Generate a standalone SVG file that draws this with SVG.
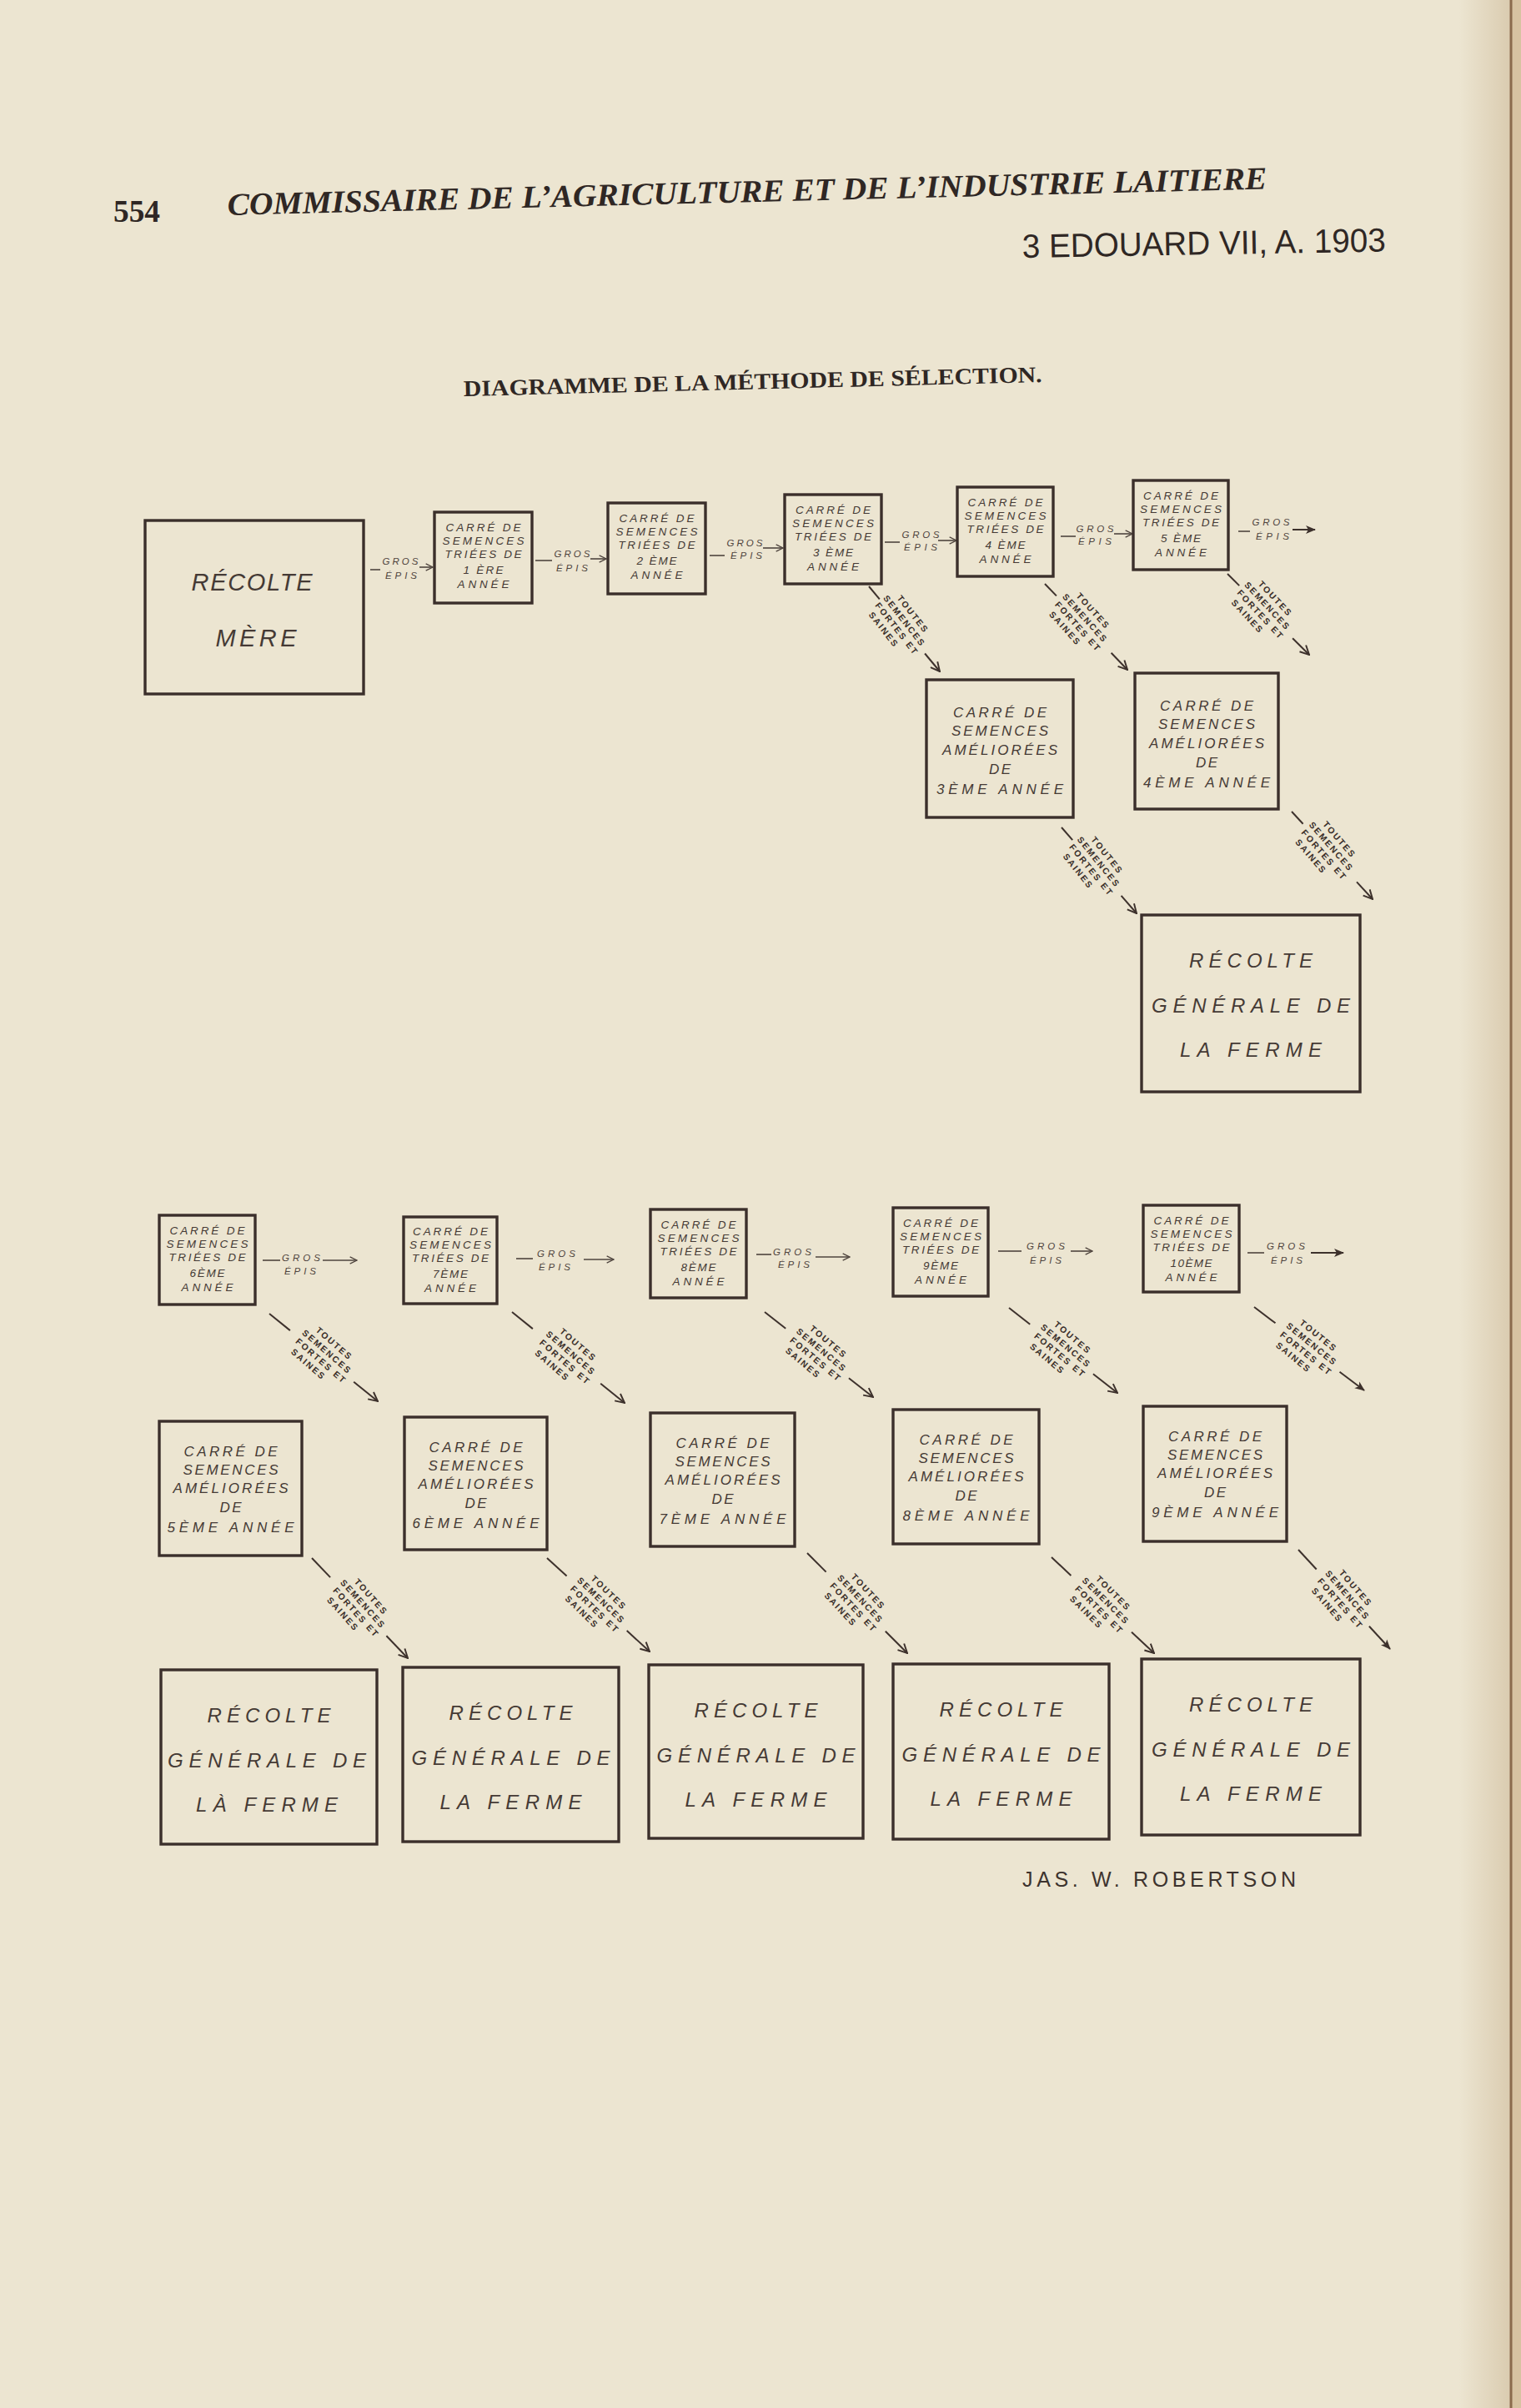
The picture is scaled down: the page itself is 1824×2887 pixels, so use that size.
<svg xmlns="http://www.w3.org/2000/svg" width="1824" height="2887" viewBox="0 0 1824 2887">
<defs>
<linearGradient id="edge" x1="0" y1="0" x2="1" y2="0">
<stop offset="0" stop-color="#b89a70" stop-opacity="0"/>
<stop offset="1" stop-color="#b89a70" stop-opacity="0.35"/>
</linearGradient>
<marker id="ao" viewBox="0 0 12 12" refX="11" refY="6" markerWidth="13" markerHeight="13" markerUnits="userSpaceOnUse" orient="auto">
<path d="M1,1 L11,6 L1,11" fill="none" stroke="#3d312c" stroke-width="1.8"/>
</marker>
<marker id="as" viewBox="0 0 12 12" refX="11" refY="6" markerWidth="10" markerHeight="10" markerUnits="userSpaceOnUse" orient="auto">
<path d="M1,1 L11,6 L1,11" fill="none" stroke="#4f443e" stroke-width="1.6"/>
</marker>
<marker id="af" viewBox="0 0 12 12" refX="11" refY="6" markerWidth="12" markerHeight="12" markerUnits="userSpaceOnUse" orient="auto">
<path d="M0,1 L12,6 L0,11 L3,6 z" fill="#3d312c"/>
</marker>
<style>
.bx{fill:none;stroke:#3b2f2b;stroke-width:3.4}
.t{font-family:"Liberation Sans",Arial,sans-serif;font-style:italic;fill:#453a35;text-anchor:middle}
.s{font-size:13.5px}
.m{font-size:17px}
.l{font-size:24px}
.g{font-family:"Liberation Sans",Arial,sans-serif;font-style:italic;font-size:11.5px;fill:#4f443e;text-anchor:middle}
.c{stroke:#3d312c;stroke-width:2;fill:none}
.cs{stroke:#4f443e;stroke-width:1.6;fill:none}
.d{font-family:"Liberation Sans",Arial,sans-serif;font-weight:bold;font-size:10.5px;letter-spacing:2px;fill:#3a2f2a;text-anchor:middle}
.hd{font-family:"Liberation Serif","Times New Roman",serif;font-weight:bold;fill:#2f2724}
</style>
</defs>

<rect x="0" y="0" width="1824" height="2887" fill="#ece5d1"/>
<rect x="1750" y="0" width="63" height="2887" fill="url(#edge)"/>
<rect x="1813" y="0" width="11" height="2887" fill="#d7c3a1"/>
<line x1="1812" y1="0" x2="1812" y2="2887" stroke="#8b6b4c" stroke-width="3"/>

<g id="header">
<text class="hd" x="136" y="266" font-size="38" textLength="56" lengthAdjust="spacingAndGlyphs">554</text>
<text class="hd" x="273" y="258" font-size="38" font-style="italic" textLength="1247" lengthAdjust="spacingAndGlyphs" transform="rotate(-1.45 273 258)">COMMISSAIRE DE L’AGRICULTURE ET DE L’INDUSTRIE LAITIERE</text>
<text x="1226" y="309" font-family="'Liberation Sans',Arial,sans-serif" font-size="40" fill="#2f2724" textLength="436" lengthAdjust="spacingAndGlyphs" transform="rotate(-1 1226 309)">3 EDOUARD VII, A. 1903</text>
<text class="hd" x="556" y="475" font-size="27" textLength="694" lengthAdjust="spacingAndGlyphs" transform="rotate(-1.4 556 475)">DIAGRAMME DE LA MÉTHODE DE SÉLECTION.</text>
</g>

<g id="connectors">
<g id="g1"><line class="cs" x1="444" y1="683" x2="456" y2="683"/><text class="g" x="480" y="677" textLength="43">GROS</text><text class="g" x="481" y="694" textLength="38">ÉPIS</text><line class="cs" x1="503" y1="680" x2="519" y2="680" marker-end="url(#as)"/></g>
<g id="g2"><line class="cs" x1="642" y1="672" x2="662" y2="672"/><text class="g" x="686" y="668" textLength="43">GROS</text><text class="g" x="686" y="685" textLength="38">ÉPIS</text><line class="cs" x1="708" y1="670" x2="727" y2="670" marker-end="url(#as)"/></g>
<g id="g3"><line class="cs" x1="851" y1="666" x2="869" y2="666"/><text class="g" x="893" y="655" textLength="43">GROS</text><text class="g" x="895" y="670" textLength="38">ÉPIS</text><line class="cs" x1="915" y1="657" x2="939" y2="657" marker-end="url(#as)"/></g>
<g id="g4"><line class="cs" x1="1061" y1="650" x2="1079" y2="650"/><text class="g" x="1104" y="645" textLength="45">GROS</text><text class="g" x="1104" y="660" textLength="40">ÉPIS</text><line class="cs" x1="1125" y1="648" x2="1147" y2="648" marker-end="url(#as)"/></g>
<g id="g5"><line class="cs" x1="1272" y1="643" x2="1290" y2="643"/><text class="g" x="1313" y="638" textLength="45">GROS</text><text class="g" x="1313" y="653" textLength="40">ÉPIS</text><line class="cs" x1="1336" y1="640" x2="1358" y2="640" marker-end="url(#as)"/></g>
<g id="g6"><line class="cs" x1="1485" y1="637" x2="1499" y2="637"/><text class="g" x="1524" y="630" textLength="45">GROS</text><text class="g" x="1526" y="647" textLength="40">ÉPIS</text><line class="c" x1="1550" y1="635" x2="1577" y2="635" marker-end="url(#af)"/></g>
<g id="g7"><line class="cs" x1="315" y1="1511" x2="336" y2="1511"/><text class="g" x="361" y="1512" textLength="46">GROS</text><text class="g" x="360" y="1528" textLength="38">ÉPIS</text><line class="cs" x1="387" y1="1511" x2="428" y2="1511" marker-end="url(#as)"/></g>
<g id="g8"><line class="cs" x1="619" y1="1509" x2="639" y2="1509"/><text class="g" x="667" y="1507" textLength="46">GROS</text><text class="g" x="665" y="1523" textLength="38">ÉPIS</text><line class="cs" x1="700" y1="1510" x2="736" y2="1510" marker-end="url(#as)"/></g>
<g id="g9"><line class="cs" x1="907" y1="1504" x2="925" y2="1504"/><text class="g" x="950" y="1505" textLength="46">GROS</text><text class="g" x="952" y="1520" textLength="38">ÉPIS</text><line class="cs" x1="978" y1="1507" x2="1019" y2="1507" marker-end="url(#as)"/></g>
<g id="g10"><line class="cs" x1="1197" y1="1500" x2="1225" y2="1500"/><text class="g" x="1254" y="1498" textLength="46">GROS</text><text class="g" x="1254" y="1515" textLength="38">ÉPIS</text><line class="cs" x1="1284" y1="1500" x2="1310" y2="1500" marker-end="url(#as)"/></g>
<g id="g11"><line class="cs" x1="1496" y1="1502" x2="1516" y2="1502"/><text class="g" x="1542" y="1498" textLength="46">GROS</text><text class="g" x="1543" y="1515" textLength="38">ÉPIS</text><line class="c" x1="1572" y1="1502" x2="1611" y2="1502" marker-end="url(#af)"/></g>

<g id="d1"><line class="c" x1="1042" y1="703" x2="1054.8" y2="718.4"/><line class="c" x1="1109.1" y1="783.5" x2="1127" y2="805" marker-end="url(#ao)"/>
<g transform="translate(1080.4 749.1) rotate(52)"><text class="d" x="-1" y="-15.5">TOUTES</text><text class="d" x="-1" y="-2.5">SEMENCES</text><text class="d" x="1" y="10.5">FORTES ET</text><text class="d" x="-8" y="23.5">SAINES</text></g></g>
<g id="d2"><line class="c" x1="1253" y1="700" x2="1266.9" y2="714.4"/><line class="c" x1="1332.6" y1="782.8" x2="1352" y2="803" marker-end="url(#ao)"/>
<g transform="translate(1297.4 746.1) rotate(48)"><text class="d" x="-1" y="-15.5">TOUTES</text><text class="d" x="-1" y="-2.5">SEMENCES</text><text class="d" x="1" y="10.5">FORTES ET</text><text class="d" x="-8" y="23.5">SAINES</text></g></g>
<g id="d3"><line class="c" x1="1472" y1="688" x2="1486.2" y2="702.1"/><line class="c" x1="1550.1" y1="765.3" x2="1570" y2="785" marker-end="url(#ao)"/>
<g transform="translate(1516.1 731.6) rotate(47)"><text class="d" x="-1" y="-15.5">TOUTES</text><text class="d" x="-1" y="-2.5">SEMENCES</text><text class="d" x="1" y="10.5">FORTES ET</text><text class="d" x="-8" y="23.5">SAINES</text></g></g>
<g id="d4"><line class="c" x1="1273" y1="992" x2="1286.2" y2="1007.1"/><line class="c" x1="1344.6" y1="1073.9" x2="1363" y2="1095" marker-end="url(#ao)"/>
<g transform="translate(1313.5 1038.3) rotate(51)"><text class="d" x="-1" y="-15.5">TOUTES</text><text class="d" x="-1" y="-2.5">SEMENCES</text><text class="d" x="1" y="10.5">FORTES ET</text><text class="d" x="-8" y="23.5">SAINES</text></g></g>
<g id="d5"><line class="c" x1="1549" y1="973" x2="1562.6" y2="987.7"/><line class="c" x1="1627" y1="1057.4" x2="1646" y2="1078" marker-end="url(#ao)"/>
<g transform="translate(1592.5 1020) rotate(49)"><text class="d" x="-1" y="-15.5">TOUTES</text><text class="d" x="-1" y="-2.5">SEMENCES</text><text class="d" x="1" y="10.5">FORTES ET</text><text class="d" x="-8" y="23.5">SAINES</text></g></g>

<g id="d6"><line class="c" x1="323" y1="1575" x2="347.9" y2="1595.1"/><line class="c" x1="424.2" y1="1656.8" x2="453" y2="1680" marker-end="url(#ao)"/>
<g transform="translate(389 1626) rotate(41)"><text class="d" x="-1" y="-15.5">TOUTES</text><text class="d" x="-1" y="-2.5">SEMENCES</text><text class="d" x="1" y="10.5">FORTES ET</text><text class="d" x="-8" y="23.5">SAINES</text></g></g>
<g id="d7"><line class="c" x1="614" y1="1573" x2="638.9" y2="1593.1"/><line class="c" x1="720.2" y1="1658.8" x2="749" y2="1682" marker-end="url(#ao)"/>
<g transform="translate(681.5 1627.5) rotate(41)"><text class="d" x="-1" y="-15.5">TOUTES</text><text class="d" x="-1" y="-2.5">SEMENCES</text><text class="d" x="1" y="10.5">FORTES ET</text><text class="d" x="-8" y="23.5">SAINES</text></g></g>
<g id="d8"><line class="c" x1="917" y1="1573" x2="942.2" y2="1592.7"/><line class="c" x1="1017.9" y1="1652.2" x2="1047" y2="1675" marker-end="url(#ao)"/>
<g transform="translate(982 1624) rotate(40)"><text class="d" x="-1" y="-15.5">TOUTES</text><text class="d" x="-1" y="-2.5">SEMENCES</text><text class="d" x="1" y="10.5">FORTES ET</text><text class="d" x="-8" y="23.5">SAINES</text></g></g>
<g id="d9"><line class="c" x1="1210" y1="1568" x2="1235.2" y2="1587.7"/><line class="c" x1="1310.9" y1="1647.2" x2="1340" y2="1670" marker-end="url(#ao)"/>
<g transform="translate(1275 1619) rotate(40)"><text class="d" x="-1" y="-15.5">TOUTES</text><text class="d" x="-1" y="-2.5">SEMENCES</text><text class="d" x="1" y="10.5">FORTES ET</text><text class="d" x="-8" y="23.5">SAINES</text></g></g>
<g id="d10"><line class="c" x1="1504" y1="1567" x2="1529.5" y2="1586.3"/><line class="c" x1="1606.5" y1="1644.7" x2="1636" y2="1667" marker-end="url(#af)"/>
<g transform="translate(1570 1617) rotate(39)"><text class="d" x="-1" y="-15.5">TOUTES</text><text class="d" x="-1" y="-2.5">SEMENCES</text><text class="d" x="1" y="10.5">FORTES ET</text><text class="d" x="-8" y="23.5">SAINES</text></g></g>
<g id="d11"><line class="c" x1="374" y1="1868" x2="396.1" y2="1891.1"/><line class="c" x1="463.4" y1="1961.3" x2="489" y2="1988" marker-end="url(#ao)"/>
<g transform="translate(431.5 1928) rotate(48)"><text class="d" x="-1" y="-15.5">TOUTES</text><text class="d" x="-1" y="-2.5">SEMENCES</text><text class="d" x="1" y="10.5">FORTES ET</text><text class="d" x="-8" y="23.5">SAINES</text></g></g>
<g id="d12"><line class="c" x1="656" y1="1868" x2="679.6" y2="1889.5"/><line class="c" x1="751.7" y1="1955.1" x2="779" y2="1980" marker-end="url(#ao)"/>
<g transform="translate(717.5 1924) rotate(44)"><text class="d" x="-1" y="-15.5">TOUTES</text><text class="d" x="-1" y="-2.5">SEMENCES</text><text class="d" x="1" y="10.5">FORTES ET</text><text class="d" x="-8" y="23.5">SAINES</text></g></g>
<g id="d13"><line class="c" x1="968" y1="1862" x2="990.6" y2="1884.6"/><line class="c" x1="1061.8" y1="1955.8" x2="1088" y2="1982" marker-end="url(#ao)"/>
<g transform="translate(1028 1922) rotate(47)"><text class="d" x="-1" y="-15.5">TOUTES</text><text class="d" x="-1" y="-2.5">SEMENCES</text><text class="d" x="1" y="10.5">FORTES ET</text><text class="d" x="-8" y="23.5">SAINES</text></g></g>
<g id="d14"><line class="c" x1="1261" y1="1867" x2="1284.4" y2="1888.9"/><line class="c" x1="1357" y1="1956.7" x2="1384" y2="1982" marker-end="url(#ao)"/>
<g transform="translate(1322.5 1924.5) rotate(45)"><text class="d" x="-1" y="-15.5">TOUTES</text><text class="d" x="-1" y="-2.5">SEMENCES</text><text class="d" x="1" y="10.5">FORTES ET</text><text class="d" x="-8" y="23.5">SAINES</text></g></g>
<g id="d15"><line class="c" x1="1557" y1="1858" x2="1578.7" y2="1881.5"/><line class="c" x1="1641.9" y1="1949.8" x2="1667" y2="1977" marker-end="url(#af)"/>
<g transform="translate(1612 1917.5) rotate(49)"><text class="d" x="-1" y="-15.5">TOUTES</text><text class="d" x="-1" y="-2.5">SEMENCES</text><text class="d" x="1" y="10.5">FORTES ET</text><text class="d" x="-8" y="23.5">SAINES</text></g></g>
</g>

<g id="node-recolte-mere"><rect class="bx" x="174" y="624" width="262" height="208"/>
<text class="t" x="302" y="708" font-size="29" textLength="145">RÉCOLTE</text>
<text class="t" x="307" y="775" font-size="29" textLength="97">MÈRE</text></g>

<g id="node-triees-1"><rect class="bx" x="521" y="614" width="117" height="109"/>
<text class="t s" x="579.5" y="637" textLength="90">CARRÉ DE</text><text class="t s" x="579.5" y="653" textLength="98">SEMENCES</text><text class="t s" x="579.5" y="669" textLength="92">TRIÉES DE</text><text class="t s" x="579.5" y="688" textLength="48">1 ÈRE</text><text class="t s" x="579.5" y="705" textLength="62">ANNÉE</text></g>
<g id="node-triees-2"><rect class="bx" x="729" y="603" width="117" height="109"/>
<text class="t s" x="787.5" y="626" textLength="90">CARRÉ DE</text><text class="t s" x="787.5" y="642" textLength="98">SEMENCES</text><text class="t s" x="787.5" y="658" textLength="92">TRIÉES DE</text><text class="t s" x="787.5" y="677" textLength="48">2 ÈME</text><text class="t s" x="787.5" y="694" textLength="62">ANNÉE</text></g>
<g id="node-triees-3"><rect class="bx" x="941" y="593" width="116" height="107"/>
<text class="t s" x="999" y="616" textLength="90">CARRÉ DE</text><text class="t s" x="999" y="632" textLength="98">SEMENCES</text><text class="t s" x="999" y="648" textLength="92">TRIÉES DE</text><text class="t s" x="999" y="667" textLength="48">3 ÈME</text><text class="t s" x="999" y="684" textLength="62">ANNÉE</text></g>
<g id="node-triees-4"><rect class="bx" x="1148" y="584" width="115" height="107"/>
<text class="t s" x="1205.5" y="607" textLength="90">CARRÉ DE</text><text class="t s" x="1205.5" y="623" textLength="98">SEMENCES</text><text class="t s" x="1205.5" y="639" textLength="92">TRIÉES DE</text><text class="t s" x="1205.5" y="658" textLength="48">4 ÈME</text><text class="t s" x="1205.5" y="675" textLength="62">ANNÉE</text></g>
<g id="node-triees-5"><rect class="bx" x="1359" y="576" width="114" height="107"/>
<text class="t s" x="1416" y="599" textLength="90">CARRÉ DE</text><text class="t s" x="1416" y="615" textLength="98">SEMENCES</text><text class="t s" x="1416" y="631" textLength="92">TRIÉES DE</text><text class="t s" x="1416" y="650" textLength="48">5 ÈME</text><text class="t s" x="1416" y="667" textLength="62">ANNÉE</text></g>

<g id="node-ameliorees-3"><rect class="bx" x="1111" y="815" width="176" height="165"/>
<text class="t m" x="1199" y="860" textLength="112">CARRÉ DE</text><text class="t m" x="1199" y="882" textLength="116">SEMENCES</text><text class="t m" x="1199" y="905" textLength="138">AMÉLIORÉES</text><text class="t m" x="1199" y="928" textLength="26">DE</text><text class="t m" x="1199" y="952" textLength="152">3ÈME ANNÉE</text></g>
<g id="node-ameliorees-4"><rect class="bx" x="1361" y="807" width="172" height="163"/>
<text class="t m" x="1447" y="852" textLength="112">CARRÉ DE</text><text class="t m" x="1447" y="874" textLength="116">SEMENCES</text><text class="t m" x="1447" y="897" textLength="138">AMÉLIORÉES</text><text class="t m" x="1447" y="920" textLength="26">DE</text><text class="t m" x="1447" y="944" textLength="152">4ÈME ANNÉE</text></g>

<g id="node-recolte-top"><rect class="bx" x="1369" y="1097" width="262" height="212"/>
<text class="t l" x="1500" y="1160" textLength="148">RÉCOLTE</text><text class="t l" x="1500" y="1214" textLength="238">GÉNÉRALE DE</text><text class="t l" x="1500" y="1267" textLength="170">LA FERME</text></g>

<g id="node-triees-6"><rect class="bx" x="191" y="1457" width="115" height="107"/>
<text class="t s" x="248.5" y="1480" textLength="90">CARRÉ DE</text><text class="t s" x="248.5" y="1496" textLength="98">SEMENCES</text><text class="t s" x="248.5" y="1512" textLength="92">TRIÉES DE</text><text class="t s" x="248.5" y="1531" textLength="42">6ÈME</text><text class="t s" x="248.5" y="1548" textLength="62">ANNÉE</text></g>
<g id="node-triees-7"><rect class="bx" x="484" y="1459" width="112" height="104"/>
<text class="t s" x="540" y="1481" textLength="90">CARRÉ DE</text><text class="t s" x="540" y="1497" textLength="98">SEMENCES</text><text class="t s" x="540" y="1513" textLength="92">TRIÉES DE</text><text class="t s" x="540" y="1532" textLength="42">7ÈME</text><text class="t s" x="540" y="1549" textLength="62">ANNÉE</text></g>
<g id="node-triees-8"><rect class="bx" x="780" y="1450" width="115" height="106"/>
<text class="t s" x="837.5" y="1473" textLength="90">CARRÉ DE</text><text class="t s" x="837.5" y="1489" textLength="98">SEMENCES</text><text class="t s" x="837.5" y="1505" textLength="92">TRIÉES DE</text><text class="t s" x="837.5" y="1524" textLength="42">8ÈME</text><text class="t s" x="837.5" y="1541" textLength="62">ANNÉE</text></g>
<g id="node-triees-9"><rect class="bx" x="1071" y="1448" width="114" height="106"/>
<text class="t s" x="1128" y="1471" textLength="90">CARRÉ DE</text><text class="t s" x="1128" y="1487" textLength="98">SEMENCES</text><text class="t s" x="1128" y="1503" textLength="92">TRIÉES DE</text><text class="t s" x="1128" y="1522" textLength="42">9ÈME</text><text class="t s" x="1128" y="1539" textLength="62">ANNÉE</text></g>
<g id="node-triees-10"><rect class="bx" x="1371" y="1445" width="115" height="104"/>
<text class="t s" x="1428.5" y="1468" textLength="90">CARRÉ DE</text><text class="t s" x="1428.5" y="1484" textLength="98">SEMENCES</text><text class="t s" x="1428.5" y="1500" textLength="92">TRIÉES DE</text><text class="t s" x="1428.5" y="1519" textLength="50">10ÈME</text><text class="t s" x="1428.5" y="1536" textLength="62">ANNÉE</text></g>

<g id="node-ameliorees-5"><rect class="bx" x="191" y="1704" width="171" height="161"/>
<text class="t m" x="276.5" y="1746" textLength="112">CARRÉ DE</text><text class="t m" x="276.5" y="1768" textLength="114">SEMENCES</text><text class="t m" x="276.5" y="1790" textLength="138">AMÉLIORÉES</text><text class="t m" x="276.5" y="1813" textLength="26">DE</text><text class="t m" x="276.5" y="1837" textLength="152">5ÈME ANNÉE</text></g>
<g id="node-ameliorees-6"><rect class="bx" x="485" y="1699" width="171" height="159"/>
<text class="t m" x="570.5" y="1741" textLength="112">CARRÉ DE</text><text class="t m" x="570.5" y="1763" textLength="114">SEMENCES</text><text class="t m" x="570.5" y="1785" textLength="138">AMÉLIORÉES</text><text class="t m" x="570.5" y="1808" textLength="26">DE</text><text class="t m" x="570.5" y="1832" textLength="152">6ÈME ANNÉE</text></g>
<g id="node-ameliorees-7"><rect class="bx" x="780" y="1694" width="173" height="160"/>
<text class="t m" x="866.5" y="1736" textLength="112">CARRÉ DE</text><text class="t m" x="866.5" y="1758" textLength="114">SEMENCES</text><text class="t m" x="866.5" y="1780" textLength="138">AMÉLIORÉES</text><text class="t m" x="866.5" y="1803" textLength="26">DE</text><text class="t m" x="866.5" y="1827" textLength="152">7ÈME ANNÉE</text></g>
<g id="node-ameliorees-8"><rect class="bx" x="1071" y="1690" width="175" height="161"/>
<text class="t m" x="1158.5" y="1732" textLength="112">CARRÉ DE</text><text class="t m" x="1158.5" y="1754" textLength="114">SEMENCES</text><text class="t m" x="1158.5" y="1776" textLength="138">AMÉLIORÉES</text><text class="t m" x="1158.5" y="1799" textLength="26">DE</text><text class="t m" x="1158.5" y="1823" textLength="152">8ÈME ANNÉE</text></g>
<g id="node-ameliorees-9"><rect class="bx" x="1371" y="1686" width="172" height="162"/>
<text class="t m" x="1457" y="1728" textLength="112">CARRÉ DE</text><text class="t m" x="1457" y="1750" textLength="114">SEMENCES</text><text class="t m" x="1457" y="1772" textLength="138">AMÉLIORÉES</text><text class="t m" x="1457" y="1795" textLength="26">DE</text><text class="t m" x="1457" y="1819" textLength="152">9ÈME ANNÉE</text></g>

<g id="node-recolte-a"><rect class="bx" x="193" y="2002" width="259" height="209"/>
<text class="t l" x="322.5" y="2065" textLength="148">RÉCOLTE</text><text class="t l" x="320" y="2119" textLength="238">GÉNÉRALE DE</text><text class="t l" x="320" y="2172" textLength="170">LÀ FERME</text></g>
<g id="node-recolte-b"><rect class="bx" x="483" y="1999" width="259" height="209"/>
<text class="t l" x="612.5" y="2062" textLength="148">RÉCOLTE</text><text class="t l" x="612.5" y="2116" textLength="238">GÉNÉRALE DE</text><text class="t l" x="612.5" y="2169" textLength="170">LA FERME</text></g>
<g id="node-recolte-c"><rect class="bx" x="778" y="1996" width="257" height="208"/>
<text class="t l" x="906.5" y="2059" textLength="148">RÉCOLTE</text><text class="t l" x="906.5" y="2113" textLength="238">GÉNÉRALE DE</text><text class="t l" x="906.5" y="2166" textLength="170">LA FERME</text></g>
<g id="node-recolte-d"><rect class="bx" x="1071" y="1995" width="259" height="210"/>
<text class="t l" x="1200.5" y="2058" textLength="148">RÉCOLTE</text><text class="t l" x="1200.5" y="2112" textLength="238">GÉNÉRALE DE</text><text class="t l" x="1200.5" y="2165" textLength="170">LA FERME</text></g>
<g id="node-recolte-e"><rect class="bx" x="1369" y="1989" width="262" height="211"/>
<text class="t l" x="1500" y="2052" textLength="148">RÉCOLTE</text><text class="t l" x="1500" y="2106" textLength="238">GÉNÉRALE DE</text><text class="t l" x="1500" y="2159" textLength="170">LA FERME</text></g>

<g id="signature"><text x="1226" y="2262" font-family="'Liberation Sans',Arial,sans-serif" font-size="25" fill="#3d332e" textLength="328">JAS. W.  ROBERTSON</text></g>
</svg>
